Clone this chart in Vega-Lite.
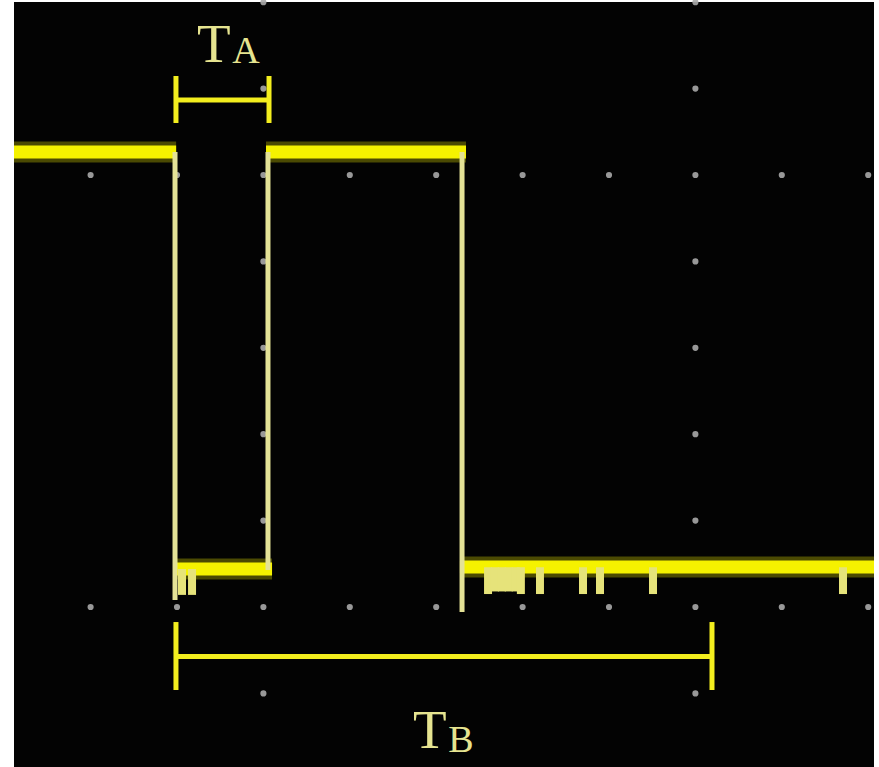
{
  "$schema": "https://vega.github.io/schema/vega-lite/v6.json",
  "width": 860,
  "height": 765,
  "autosize": {"type": "none"},
  "padding": {"left": 14, "top": 2, "right": 5, "bottom": 0},
  "background": "#ffffff",
  "config": {"view": {"fill": "#030303", "stroke": null}},
  "datasets": {
    "grid": [
      {"u": -1, "v": 5}, {"u": 0, "v": 5}, {"u": 1, "v": 5}, {"u": 2, "v": 5}, {"u": 3, "v": 5},
      {"u": 4, "v": 5}, {"u": 5, "v": 5}, {"u": 6, "v": 5}, {"u": 7, "v": 5}, {"u": 8, "v": 5},
      {"u": -1, "v": 0}, {"u": 0, "v": 0}, {"u": 1, "v": 0}, {"u": 2, "v": 0}, {"u": 3, "v": 0},
      {"u": 4, "v": 0}, {"u": 5, "v": 0}, {"u": 6, "v": 0}, {"u": 7, "v": 0}, {"u": 8, "v": 0},
      {"u": 1, "v": -1}, {"u": 1, "v": 1}, {"u": 1, "v": 2}, {"u": 1, "v": 3}, {"u": 1, "v": 4},
      {"u": 1, "v": 6}, {"u": 1, "v": 7},
      {"u": 6, "v": -1}, {"u": 6, "v": 1}, {"u": 6, "v": 2}, {"u": 6, "v": 3}, {"u": 6, "v": 4},
      {"u": 6, "v": 6}, {"u": 6, "v": 7}
    ],
    "levels": [
      {"u1": -1.9, "u2": -0.01, "v": 5.266},
      {"u1": -0.04, "u2": 1.1, "v": 0.44},
      {"u1": 1.03, "u2": 3.345, "v": 5.266},
      {"u1": 3.275, "u2": 8.1, "v": 0.463}
    ],
    "edges": [
      {"u": -0.023, "v1": 5.266, "v2": 0.081},
      {"u": 1.053, "v1": 5.266, "v2": 0.428},
      {"u": 3.299, "v1": 5.266, "v2": -0.058}
    ],
    "glitches": [
      {"u": 0.058, "v1": 0.44, "v2": 0.14},
      {"u": 0.174, "v1": 0.44, "v2": 0.14},
      {"u": 3.6, "v1": 0.46, "v2": 0.15},
      {"u": 3.68, "v1": 0.46, "v2": 0.18},
      {"u": 3.76, "v1": 0.46, "v2": 0.18},
      {"u": 3.84, "v1": 0.46, "v2": 0.18},
      {"u": 3.92, "v1": 0.46, "v2": 0.18},
      {"u": 3.98, "v1": 0.46, "v2": 0.15},
      {"u": 4.201, "v1": 0.46, "v2": 0.15},
      {"u": 4.699, "v1": 0.46, "v2": 0.15},
      {"u": 4.896, "v1": 0.46, "v2": 0.15},
      {"u": 5.509, "v1": 0.46, "v2": 0.15},
      {"u": 7.708, "v1": 0.46, "v2": 0.15}
    ],
    "brackets": [
      {"u1": -0.012, "u2": 1.065, "v1": 5.868, "v2": 5.868},
      {"u1": -0.012, "u2": -0.012, "v1": 6.146, "v2": 5.602},
      {"u1": 1.065, "u2": 1.065, "v1": 6.146, "v2": 5.602},
      {"u1": -0.012, "u2": 6.192, "v1": -0.573, "v2": -0.573},
      {"u1": -0.012, "u2": -0.012, "v1": -0.174, "v2": -0.961},
      {"u1": 6.192, "u2": 6.192, "v1": -0.174, "v2": -0.961}
    ],
    "mainLetters": [
      {"u": 0.231, "v": 6.308, "t": "T"},
      {"u": 2.731, "v": -1.632, "t": "T"}
    ],
    "subLetters": [
      {"u": 0.64, "v": 6.296, "t": "A"},
      {"u": 3.14, "v": -1.678, "t": "B"}
    ]
  },
  "layer": [
    {
      "data": {"name": "grid"},
      "mark": {"type": "circle", "size": 38, "color": "#a8a8a8", "opacity": 0.9},
      "encoding": {
        "x": {"field": "u", "type": "quantitative", "scale": {"domain": [-1.8866, 8.0671], "nice": false, "zero": false}, "axis": null},
        "y": {"field": "v", "type": "quantitative", "scale": {"domain": [-1.8519, 7.0023], "nice": false, "zero": false}, "axis": null}
      }
    },
    {
      "data": {"name": "levels"},
      "mark": {"type": "rule", "color": "#f2ef00", "strokeWidth": 21, "opacity": 0.3, "clip": true},
      "encoding": {
        "x": {"field": "u1", "type": "quantitative"},
        "x2": {"field": "u2"},
        "y": {"field": "v", "type": "quantitative"}
      }
    },
    {
      "data": {"name": "levels"},
      "mark": {"type": "rule", "color": "#f5f200", "strokeWidth": 13, "clip": true},
      "encoding": {
        "x": {"field": "u1", "type": "quantitative"},
        "x2": {"field": "u2"},
        "y": {"field": "v", "type": "quantitative"}
      }
    },
    {
      "data": {"name": "glitches"},
      "mark": {"type": "rule", "color": "#e6e37a", "strokeWidth": 8},
      "encoding": {
        "x": {"field": "u", "type": "quantitative"},
        "y": {"field": "v1", "type": "quantitative"},
        "y2": {"field": "v2"}
      }
    },
    {
      "data": {"name": "edges"},
      "mark": {"type": "rule", "color": "#e4e296", "strokeWidth": 5},
      "encoding": {
        "x": {"field": "u", "type": "quantitative"},
        "y": {"field": "v1", "type": "quantitative"},
        "y2": {"field": "v2"}
      }
    },
    {
      "data": {"name": "brackets"},
      "mark": {"type": "rule", "color": "#f3ee1e", "strokeWidth": 5},
      "encoding": {
        "x": {"field": "u1", "type": "quantitative"},
        "x2": {"field": "u2"},
        "y": {"field": "v1", "type": "quantitative"},
        "y2": {"field": "v2"}
      }
    },
    {
      "data": {"name": "mainLetters"},
      "mark": {"type": "text", "font": "Liberation Serif", "fontSize": 55, "color": "#e6e490", "align": "left", "baseline": "alphabetic"},
      "encoding": {
        "x": {"field": "u", "type": "quantitative"},
        "y": {"field": "v", "type": "quantitative"},
        "text": {"field": "t"}
      }
    },
    {
      "data": {"name": "subLetters"},
      "mark": {"type": "text", "font": "Liberation Serif", "fontSize": 38, "color": "#e6e490", "align": "left", "baseline": "alphabetic"},
      "encoding": {
        "x": {"field": "u", "type": "quantitative"},
        "y": {"field": "v", "type": "quantitative"},
        "text": {"field": "t"}
      }
    }
  ]
}
